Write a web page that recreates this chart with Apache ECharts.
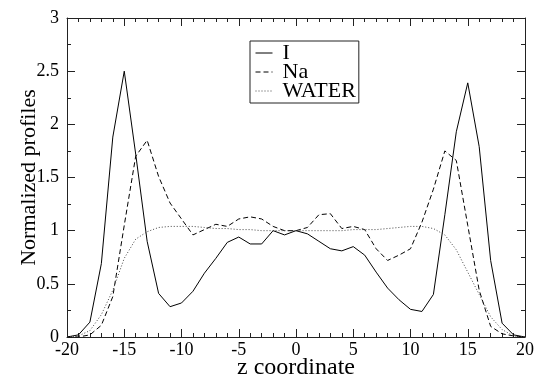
<!DOCTYPE html>
<html>
<head>
<meta charset="utf-8">
<script src="https://cdn.jsdelivr.net/npm/echarts@6/dist/echarts.min.js"></script>
<style>
html,body{margin:0;padding:0;background:#fff;}
#chart{width:537px;height:379px;}
</style>
</head>
<body>
<div id="chart"></div>
<script>
var zValues = [-20,-19,-18,-17,-16,-15,-14,-13,-12,-11,-10,-9,-8,-7,-6,-5,-4,-3,-2,-1,0,1,2,3,4,5,6,7,8,9,10,11,12,13,14,15,16,17,18,19,20];
var iValues = [0,0.02,0.14,0.69,1.88,2.50,1.72,0.90,0.41,0.285,0.32,0.43,0.60,0.74,0.89,0.94,0.875,0.875,1.00,0.96,1.00,0.97,0.90,0.83,0.81,0.85,0.77,0.61,0.46,0.35,0.26,0.24,0.40,1.15,1.93,2.39,1.79,0.72,0.13,0.02,0];
var naValues = [0,0,0.02,0.11,0.38,1.05,1.70,1.85,1.51,1.26,1.11,0.96,1.01,1.06,1.04,1.11,1.13,1.11,1.04,1.00,1.00,1.03,1.15,1.16,1.02,1.04,1.01,0.83,0.72,0.77,0.83,1.08,1.39,1.75,1.66,1.05,0.44,0.10,0.03,0.01,0];
var waterValues = [0,0.01,0.06,0.21,0.44,0.74,0.92,0.99,1.03,1.04,1.04,1.04,1.03,1.02,1.02,1.01,1.01,1.0,1.0,1.0,1.0,1.0,1.0,1.0,1.0,1.01,1.01,1.01,1.02,1.03,1.04,1.04,1.02,0.96,0.82,0.61,0.40,0.19,0.07,0.01,0];
var seriesNames = ['I','Na','WATER'];
var xTicks = [-20,-15,-10,-5,0,5,10,15,20];
var yTicks = [0,0.5,1,1.5,2,2.5,3];

function pairs(vals){ return zValues.map(function(z,i){ return [z, vals[i]]; }); }
var font = "'Liberation Serif', 'Times New Roman', serif";
var axisColor = '#222';

function xAxisDef(pos, show){
  return {
    type:'value', position:pos, min:-20, max:20, interval:5,
    axisLine:{show:true, onZero:false, lineStyle:{color:axisColor, width:1}},
    axisTick:{show:true, inside:true, length:8, lineStyle:{color:axisColor}},
    minorTick:{show:true, splitNumber:5, length:4, lineStyle:{color:axisColor}},
    splitLine:{show:false},
    axisLabel:{show:show, color:'#000', fontFamily:font, fontSize:18, margin:4,
      formatter:function(v){ return xTicks.indexOf(v) >= 0 ? String(v) : ''; }},
    name: show ? 'z coordinate' : '', nameLocation:'middle', nameGap:19, nameMoveOverlap:false,
    nameTextStyle:{color:'#000', fontFamily:font, fontSize:24}
  };
}
function yAxisDef(pos, show){
  return {
    type:'value', position:pos, min:0, max:3, interval:0.5,
    axisLine:{show:true, onZero:false, lineStyle:{color:axisColor, width:1}},
    axisTick:{show:true, inside:true, length:8, lineStyle:{color:axisColor}},
    minorTick:{show:true, splitNumber:2, length:4, lineStyle:{color:axisColor}},
    splitLine:{show:false},
    axisLabel:{show:show, color:'#000', fontFamily:font, fontSize:18, margin:8,
      formatter:function(v){ return yTicks.indexOf(v) >= 0 ? String(v) : ''; }},
    name: show ? 'Normalized profiles' : '', nameLocation:'middle', nameGap:27, nameMoveOverlap:false,
    nameTextStyle:{color:'#000', fontFamily:font, fontSize:22}
  };
}

var chart = echarts.init(document.getElementById('chart'), null, {renderer:'canvas'});
chart.setOption({
  backgroundColor:'#fff',
  animation:false,
  grid:{left:67, right:12, top:18, bottom:42, containLabel:false, outerBoundsMode:'none'},
  xAxis:[xAxisDef('bottom', true), xAxisDef('top', false)],
  yAxis:[yAxisDef('left', true), yAxisDef('right', false)],
  legend:{
    show:true, orient:'vertical', left:250, top:41,
    data:seriesNames,
    itemWidth:17, itemHeight:10, itemGap:-3,
    padding:[1,3,1,5],
    borderColor:'#222', borderWidth:1,
    itemStyle:{color:'rgba(0,0,0,0)', borderWidth:0, opacity:0},
    lineStyle:{width:1},
    textStyle:{color:'#000', fontFamily:font, fontSize:22, lineHeight:19.5, padding:[0,0,0,5]}
  },
  series:[
    {name:seriesNames[0], type:'line', data:pairs(iValues), showSymbol:false, symbol:'none',
     lineStyle:{color:'#000', width:1, type:'solid'}, itemStyle:{color:'#000'}},
    {name:seriesNames[1], type:'line', data:pairs(naValues), showSymbol:false, symbol:'none',
     lineStyle:{color:'#000', width:1, type:[5,3]}, itemStyle:{color:'#000'}},
    {name:seriesNames[2], type:'line', data:pairs(waterValues), showSymbol:false, symbol:'none',
     lineStyle:{color:'#444', width:1, type:[1,2]}, itemStyle:{color:'#444'}}
  ]
});
</script>
</body>
</html>
